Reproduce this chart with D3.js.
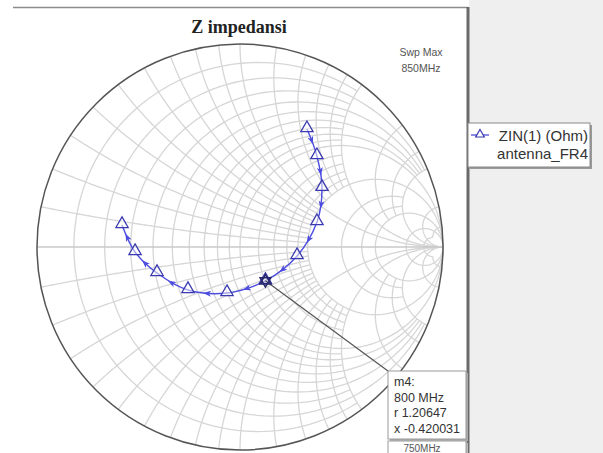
<!DOCTYPE html>
<html>
<head>
<meta charset="utf-8">
<script src="https://cdn.jsdelivr.net/npm/d3@7"></script>
<style>
  body { margin: 0; background: #fff; }
  svg { display: block; }
  text { font-family: "Liberation Sans", Arial, sans-serif; }
</style>
</head>
<body>
<svg id="chart" width="603" height="453"></svg>
<script>
// sweep frequencies (MHz) and normalised impedance
var freqs = [750, 760, 770, 780, 790, 800, 810, 820, 830, 840, 850];
var zRe = [0.704, 1.118, 1.710, 2.10, 1.771, 1.20647, 0.798, 0.548, 0.408, 0.318, 0.259];
var zIm = [1.477, 1.528, 1.323, 0.614, -0.171, -0.420031, -0.383, -0.261, -0.128, -0.0214, 0.0863];

// marker m4
var markerFreq = 800;
var markerLines = ["m4:", "800 MHz", "r 1.20647", "x -0.420031"];

// grid: [value, limit of the other coordinate]
var rCircles = [[0.1, 2], [0.2, 5], [0.3, 2], [0.4, 5], [0.5, 2], [0.6, 5], [0.7, 2], [0.8, 5], [0.9, 2],
	[1, Infinity], [1.2, 2], [1.4, 2], [1.6, 2], [1.8, 2], [2, Infinity], [3, 5], [4, 5], [5, Infinity],
	[10, Infinity], [20, 20]];
var xArcs = [[0.1, 2], [0.2, 2], [0.3, 2], [0.4, 2], [0.5, 2], [0.6, 2], [0.7, 2], [0.8, 2], [0.9, 2],
	[1, Infinity], [1.2, 2], [1.4, 2], [1.6, 2], [1.8, 2], [2, Infinity], [3, 5], [4, 5], [5, Infinity],
	[10, Infinity], [20, 20]];

var title = "Z impedansi";
var legendLabel = ["ZIN(1) (Ohm)", "antenna_FR4"];
var swpMax = ["Swp Max", "850MHz"];
var swpMin = "750MHz";

var cx = 240, cy = 247, R = 203;
var svg = d3.select("#chart");

var x = d3.scaleLinear().domain([-1, 1]).range([cx - R, cx + R]);
var y = d3.scaleLinear().domain([-1, 1]).range([cy + R, cy - R]);

var line = d3.line()
	.x(function (d) { return x(d[0]); })
	.y(function (d) { return y(d[1]); });

// z -> reflection coefficient
function gamma(r, xi) {
	var d = (r + 1) * (r + 1) + xi * xi;
	return [(r * r - 1 + xi * xi) / d, 2 * xi / d];
}

function tOf(xi, r) {
	if (!isFinite(xi)) return xi > 0 ? Math.PI / 2 : -Math.PI / 2;
	return Math.atan(xi / (r + 1));
}

// constant resistance arc between reactance -lim..lim
function rArc(r, lim) {
	var c = r / (1 + r), rho = 1 / (1 + r);
	var t1 = tOf(-lim, r), t2 = tOf(lim, r), pts = [];
	for (var i = 0; i <= 120; i++) {
		var t = t1 + (t2 - t1) * i / 120;
		var a = Math.PI - 2 * t;
		pts.push([c + rho * Math.cos(a), rho * Math.sin(a)]);
	}
	return pts;
}

// constant reactance arc between resistance 0..lim
function xArc(xi, lim) {
	var t1 = Math.atan(xi), t2 = isFinite(lim) ? Math.atan(xi / (lim + 1)) : 0, pts = [];
	for (var i = 0; i <= 120; i++) {
		var t = t1 + (t2 - t1) * i / 120;
		pts.push([1 - Math.sin(2 * t) / xi, (1 - Math.cos(2 * t)) / xi]);
	}
	return pts;
}

// frame
svg.append("rect").attr("x", 469).attr("y", 0).attr("width", 134).attr("height", 453).attr("fill", "#efefef");
svg.append("line").attr("x1", 13).attr("x2", 468).attr("y1", 7.5).attr("y2", 7.5)
	.attr("stroke", "#8c8c8c").attr("stroke-width", 1.5);
svg.append("line").attr("x1", 468).attr("x2", 468).attr("y1", 7).attr("y2", 453)
	.attr("stroke", "#6a6a6a").attr("stroke-width", 3);

var g = svg.append("g");
var gridColor = "#d6d6d6";

rCircles.forEach(function (d) {
	g.append("path").attr("d", line(rArc(d[0], d[1])))
		.attr("fill", "none").attr("stroke", gridColor).attr("stroke-width", 1.3);
});
xArcs.forEach(function (d) {
	[1, -1].forEach(function (s) {
		g.append("path").attr("d", line(xArc(s * d[0], d[1])))
			.attr("fill", "none").attr("stroke", gridColor).attr("stroke-width", 1.3);
	});
});
g.append("path").attr("d", line([[-1, 0], [1, 0]]))
	.attr("stroke", "#c8c8c8").attr("stroke-width", 1.3);
g.append("circle").attr("cx", x(0)).attr("cy", y(0)).attr("r", x(1) - x(0))
	.attr("fill", "none").attr("stroke", "#555").attr("stroke-width", 1.5);

// title and sweep labels
svg.append("text").attr("x", 239).attr("y", 33).attr("text-anchor", "middle")
	.style("font-family", "'Liberation Serif', 'Times New Roman', serif")
	.style("font-weight", "bold").style("font-size", "18px").attr("fill", "#222").text(title);
svg.selectAll(".swp").data(swpMax).enter().append("text")
	.attr("x", 421).attr("y", function (d, i) { return 56 + i * 16; })
	.attr("text-anchor", "middle").style("font-size", "10.5px").attr("fill", "#555")
	.text(function (d) { return d; });

// trace
var pts = zRe.map(function (r, i) { return gamma(r, zIm[i]); });
var traceColor = "#4d4de0";
g.append("path").datum(pts)
	.attr("d", line.curve(d3.curveCardinal.tension(0)))
	.attr("fill", "none").attr("stroke", traceColor).attr("stroke-width", 1.4);
line.curve(d3.curveLinear);

// direction arrows in middle of each segment
for (var i = 0; i < pts.length - 1; i++) {
	var p0 = pts[Math.max(0, i - 1)], p1 = pts[i], p2 = pts[i + 1], p3 = pts[Math.min(pts.length - 1, i + 2)];
	var mx = (-p0[0] + 9 * p1[0] + 9 * p2[0] - p3[0]) / 16;
	var my = (-p0[1] + 9 * p1[1] + 9 * p2[1] - p3[1]) / 16;
	var ang = Math.atan2(y(p2[1]) - y(p1[1]), x(p2[0]) - x(p1[0])) * 180 / Math.PI;
	g.append("path").attr("d", "M4,0L-4,-3L-2,0L-4,3Z")
		.attr("transform", "translate(" + x(mx) + "," + y(my) + ") rotate(" + ang + ")")
		.attr("fill", traceColor);
}

var tri = d3.symbol(d3.symbolTriangle, 65);
g.selectAll(".tri").data(pts).enter().append("path")
	.attr("d", tri)
	.attr("transform", function (d) { return "translate(" + x(d[0]) + "," + (y(d[1]) - 1) + ")"; })
	.attr("fill", "white").attr("fill-opacity", 0.5)
	.attr("stroke", "#3a3ab0").attr("stroke-width", 1.3);

// marker m4
var mi = freqs.indexOf(markerFreq);
var mp = pts[mi];
var bx = 388, by = 371, bw = 78, bh = 68;
g.append("line").attr("x1", x(mp[0])).attr("y1", y(mp[1])).attr("x2", bx).attr("y2", by)
	.attr("stroke", "#555").attr("stroke-width", 1.2);
var star = d3.symbol(d3.symbolTriangle, 50);
[0, 180].forEach(function (rot) {
	g.append("path").attr("d", star)
		.attr("transform", "translate(" + x(mp[0]) + "," + y(mp[1]) + ") rotate(" + rot + ")")
		.attr("fill", "none").attr("stroke", "#26266a").attr("stroke-width", 1.5);
});

// sweep min box (mostly hidden under marker box)
svg.append("rect").attr("x", bx + 2).attr("y", 443).attr("width", bw).attr("height", 20)
	.attr("fill", "#bbb");
svg.append("rect").attr("x", bx).attr("y", 441).attr("width", bw).attr("height", 20)
	.attr("fill", "white").attr("stroke", "#999");
svg.append("text").attr("x", 422).attr("y", 452).attr("text-anchor", "middle")
	.style("font-size", "10px").attr("fill", "#555").text(swpMin);

svg.append("rect").attr("x", bx + 2).attr("y", by + 2).attr("width", bw).attr("height", bh)
	.attr("fill", "#aaa");
svg.append("rect").attr("x", bx).attr("y", by).attr("width", bw).attr("height", bh)
	.attr("fill", "white").attr("stroke", "#999");
svg.selectAll(".mk").data(markerLines).enter().append("text")
	.attr("x", bx + 6).attr("y", function (d, i) { return by + 15 + i * 15.5; })
	.style("font-size", "12.5px").attr("fill", "#333")
	.text(function (d) { return d; });

// legend
svg.append("rect").attr("x", 470).attr("y", 125).attr("width", 122).attr("height", 44).attr("fill", "#999");
svg.append("rect").attr("x", 468).attr("y", 123).attr("width", 122).attr("height", 44)
	.attr("fill", "white").attr("stroke", "#888");
svg.append("line").attr("x1", 471).attr("x2", 489).attr("y1", 135).attr("y2", 135)
	.attr("stroke", traceColor).attr("stroke-width", 1.3);
svg.append("path").attr("d", d3.symbol(d3.symbolTriangle, 32))
	.attr("transform", "translate(480,134.5)")
	.attr("fill", "white").attr("stroke", "#3a3ab0").attr("stroke-width", 1.2);
svg.selectAll(".lg").data(legendLabel).enter().append("text")
	.attr("x", 588).attr("y", function (d, i) { return 141 + i * 18; })
	.attr("text-anchor", "end").style("font-size", "15px").attr("fill", "#333")
	.text(function (d) { return d; });
</script>
</body>
</html>
